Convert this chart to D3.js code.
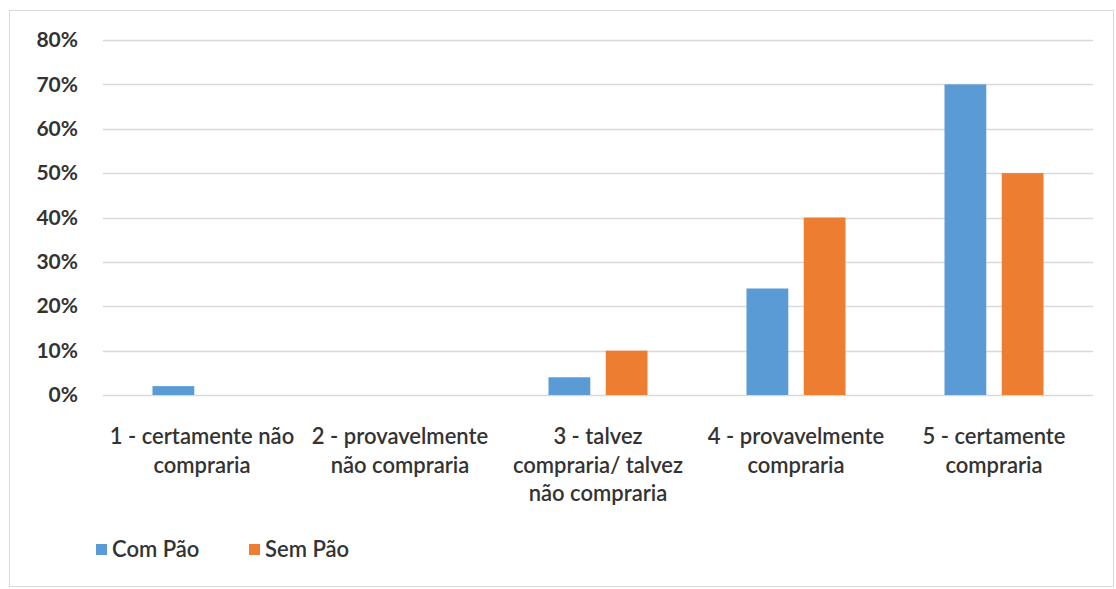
<!DOCTYPE html>
<html>
<head>
<meta charset="utf-8">
<script src="https://cdn.jsdelivr.net/npm/d3@7"></script>
<style>
  html, body { margin: 0; padding: 0; background: #fff; }
  svg { display: block; }
  text { font-family: Lato, "Open Sans", sans-serif; fill: #333; }
</style>
</head>
<body>
<svg id="chart" width="1116" height="589"></svg>
<script>
// Purchase intention by answer, with and without bread
const categories = [
  ["1 - certamente não", "compraria"],
  ["2 - provavelmente", "não compraria"],
  ["3 - talvez", "compraria/ talvez", "não compraria"],
  ["4 - provavelmente", "compraria"],
  ["5 - certamente", "compraria"]
];
const seriesNames = ["Com Pão", "Sem Pão"];
const comPao = [0.02, 0, 0.04, 0.24, 0.70];
const semPao = [0, 0, 0.10, 0.40, 0.50];
const yTicks = [0, 0.1, 0.2, 0.3, 0.4, 0.5, 0.6, 0.7, 0.8];
const colors = ["#5B9BD5", "#ED7D31"];

const svg = d3.select("#chart");

// outer frame
svg.append("rect")
  .attr("x", 9.5).attr("y", 10.5)
  .attr("width", 1104).attr("height", 576)
  .attr("fill", "none").attr("stroke", "#d9d9d9").attr("stroke-width", 1);

const plot = { left: 103, right: 1093, top: 40, bottom: 395 };

const x0 = d3.scaleBand()
  .domain(d3.range(categories.length))
  .range([plot.left, plot.right])
  .paddingInner(0.5).paddingOuter(0.25);

const x1 = d3.scaleBand()
  .domain(d3.range(seriesNames.length))
  .range([0, x0.bandwidth()])
  .paddingInner(0.27);

const y = d3.scaleLinear().domain([0, 0.8]).range([plot.bottom, plot.top]);

// gridlines
svg.append("g")
  .selectAll("line")
  .data(yTicks)
  .join("line")
  .attr("x1", plot.left).attr("x2", plot.right)
  .attr("y1", d => Math.round(y(d)) + 0.5)
  .attr("y2", d => Math.round(y(d)) + 0.5)
  .attr("stroke", "#d9d9d9").attr("stroke-width", 1.5);

// y axis labels
const yAxis = d3.axisLeft(y).tickValues(yTicks).tickFormat(d3.format(".0%")).tickSize(0).tickPadding(0);
const yG = svg.append("g").attr("transform", `translate(78,0)`).call(yAxis);
yG.select(".domain").remove();
yG.selectAll("text")
  .style("font-family", "Lato, sans-serif")
  .style("font-size", "21px")
  .style("font-weight", "bold")
  .attr("fill", "#404040");

// bars
const seriesData = [comPao, semPao];
seriesData.forEach((vals, s) => {
  svg.append("g")
    .selectAll("rect")
    .data(vals)
    .join("rect")
    .attr("x", (d, i) => x0(i) + x1(s))
    .attr("width", x1.bandwidth())
    .attr("y", d => y(d))
    .attr("height", d => y(0) - y(d))
    .attr("fill", colors[s]);
});

// category labels
const catG = svg.append("g");
categories.forEach((lines, i) => {
  const t = catG.append("text")
    .attr("x", x0(i) + x0.bandwidth() / 2)
    .attr("y", 444)
    .attr("text-anchor", "middle")
    .style("font-size", "22px")
    .style("font-weight", "600")
    .attr("fill", "#333");
  lines.forEach((ln, k) => {
    t.append("tspan")
      .attr("x", x0(i) + x0.bandwidth() / 2)
      .attr("dy", k === 0 ? 0 : 28.5)
      .text(ln);
  });
});

// legend
const legendX = [96, 249];
seriesNames.forEach((name, s) => {
  svg.append("rect")
    .attr("x", legendX[s]).attr("y", 544)
    .attr("width", 11).attr("height", 11)
    .attr("fill", colors[s]);
  svg.append("text")
    .attr("x", legendX[s] + 16).attr("y", 557)
    .style("font-size", "22px")
    .style("font-weight", "600")
    .attr("fill", "#333")
    .text(name);
});
</script>
</body>
</html>
